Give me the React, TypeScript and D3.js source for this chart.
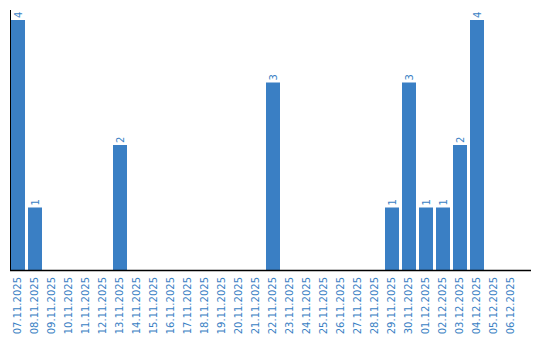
import React from "react";
import * as d3 from "d3";

const dates = [
  "07.11.2025","08.11.2025","09.11.2025","10.11.2025","11.11.2025","12.11.2025",
  "13.11.2025","14.11.2025","15.11.2025","16.11.2025","17.11.2025","18.11.2025",
  "19.11.2025","20.11.2025","21.11.2025","22.11.2025","23.11.2025","24.11.2025",
  "25.11.2025","26.11.2025","27.11.2025","28.11.2025","29.11.2025","30.11.2025",
  "01.12.2025","02.12.2025","03.12.2025","04.12.2025","05.12.2025","06.12.2025",
];
const counts = [4,1,0,0,0,0,2,0,0,0,0,0,0,0,0,3,0,0,0,0,0,0,1,3,1,1,2,4,0,0];

const W = 540, H = 340;
const color = "#3a7fc4";
const font = "DejaVu Sans, Verdana, sans-serif";

export default function App() {
  const x = d3.scaleBand<string>().domain(dates).range([11, 518]).paddingInner(3 / 17).paddingOuter(0);
  const y = d3.scaleLinear().domain([0, 4]).range([270, 20]);
  return (
    <svg width={W} height={H} style={{ position: "absolute", left: 0, top: 0 }}>
      <line x1={10.5} x2={10.5} y1={10} y2={270} stroke="#000" strokeWidth={1} />
      {dates.map((d, i) => {
        const v = counts[i];
        const cx = (x(d) as number) + x.bandwidth() / 2;
        return (
          <g key={d}>
            {v > 0 && (
              <>
                <rect x={x(d)} y={y(v)} width={x.bandwidth()} height={y(0) - y(v)} fill={color} />
                <text
                  transform={`translate(${cx},${y(v) - 2}) rotate(-90)`}
                  dy="0.35em"
                  textAnchor="start"
                  fontFamily={font}
                  fontSize={10}
                  fill={color}
                >
                  {v}
                </text>
              </>
            )}
            <text
              transform={`translate(${cx - 0.5},277) rotate(-90)`}
              dy="0.35em"
              textAnchor="end"
              fontFamily={font}
              fontSize={10}
              fill={color}
            >
              {d}
            </text>
          </g>
        );
      })}
      <line x1={10} x2={531} y1={270.5} y2={270.5} stroke="#000" strokeWidth={1.5} />
    </svg>
  );
}
